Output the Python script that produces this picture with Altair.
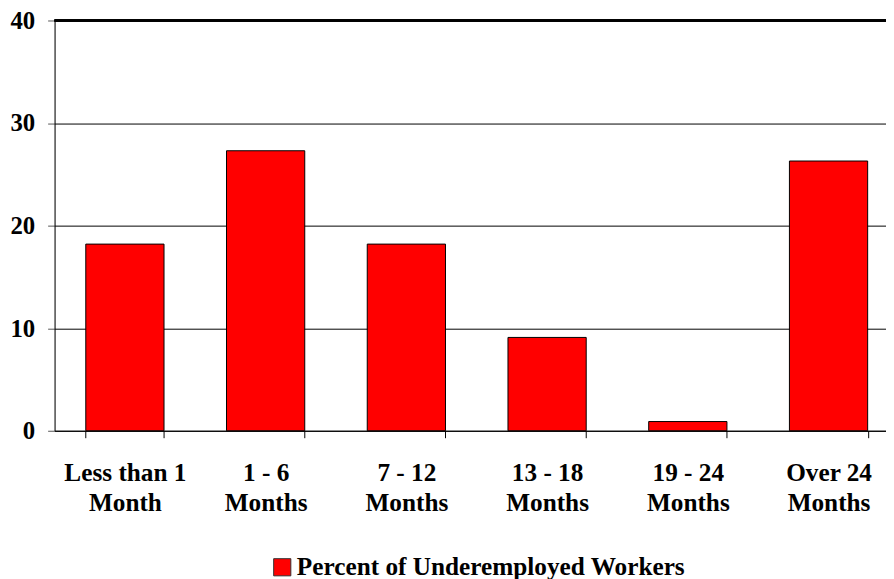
import altair as alt
import pandas as pd

categories = ["Less than 1 Month", "1 - 6 Months", "7 - 12 Months",
              "13 - 18 Months", "19 - 24 Months", "Over 24 Months"]
values = [18.2, 27.3, 18.2, 9.1, 0.9, 26.3]
series_name = "Percent of Underemployed Workers"
y_ticks = [0, 10, 20, 30, 40]

df = pd.DataFrame({"cat": categories, "val": values, "series": [series_name] * len(categories)})

FONT = "Liberation Serif"

label_expr = ("[slice(datum.label, 0, lastindexof(datum.label, ' ')), "
              "slice(datum.label, lastindexof(datum.label, ' ') + 1)]")

x_enc = alt.X("cat:N", sort=categories,
              scale=alt.Scale(paddingInner=0.444, paddingOuter=0.176, align=0.63),
              axis=alt.Axis(title=None, labelAngle=0, tickBand="extent", tickSize=7,
                            domainColor="black", tickColor="black", labelPadding=23,
                            labelLineHeight=30, labelExpr=label_expr, labelFont=FONT,
                            labelFontSize=25.5, labelFontWeight="bold", labelColor="black",
                            labelBaseline="top"))

y_enc = alt.Y("val:Q", scale=alt.Scale(domain=[0, 40], nice=False),
              axis=alt.Axis(title=None, values=y_ticks, grid=True, gridColor="black",
                            gridOpacity=1, gridWidth=1, domainColor="black",
                            tickColor="#555555", tickSize=7, labelPadding=13, labelFont=FONT,
                            labelFontSize=25, labelFontWeight="bold", labelColor="black"))

bars = alt.Chart(df).mark_bar(stroke="black", strokeWidth=1).encode(
    x=x_enc,
    y=y_enc,
    color=alt.Color("series:N", scale=alt.Scale(range=["#ff0000"]),
                    legend=alt.Legend(title=None, orient="none", legendX=217, legendY=539,
                                      direction="horizontal", symbolType="square",
                                      symbolSize=300, symbolStrokeColor="#333333",
                                      symbolStrokeWidth=1, symbolFillColor="#ff0000",
                                      labelFont=FONT, labelFontSize=25.5,
                                      labelFontWeight="bold", labelColor="black",
                                      labelOffset=2, padding=0, labelLimit=0)),
)

top_rule = alt.Chart(df).mark_rule(color="black", strokeWidth=2).encode(
    y=alt.datum(40)
)

chart = alt.layer(top_rule, bars).properties(
    width=839, height=414,
    autosize=alt.AutoSizeParams(type="none"),
    padding={"left": 47, "top": 10, "right": 0, "bottom": 150},
).configure_view(stroke=None).configure(background="white")

chart.save("out.html", embed_options={"renderer": "svg", "actions": False})
